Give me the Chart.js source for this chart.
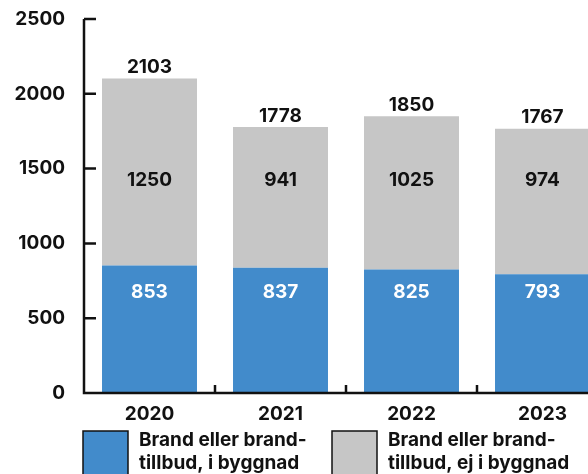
<!DOCTYPE html>
<html>
<head>
<meta charset="utf-8">
<script src="https://cdn.jsdelivr.net/npm/chart.js@4/dist/chart.umd.min.js"></script>
<style>
  html, body { margin: 0; padding: 0; background: #fff; overflow: hidden; }
  #wrap { width: 620px; height: 474px; position: relative; }
</style>
</head>
<body>
<div id="wrap"><canvas id="chart"></canvas></div>
<script>
// Data
const years = ['2020', '2021', '2022', '2023'];
const inBuilding = [853, 837, 825, 793];
const notInBuilding = [1250, 941, 1025, 974];
const totals = [2103, 1778, 1850, 1767];
const yTicks = [0, 500, 1000, 1500, 2000, 2500];
const legendLabels = [
  ['Brand eller brand-', 'tillbud, i byggnad'],
  ['Brand eller brand-', 'tillbud, ej i byggnad'],
];

const BLUE = '#428bcb';
const GRAY = '#c6c6c6';
const INK = '#111111';
const FAMILY = 'Inter, "Open Sans", sans-serif';
const FONT = 'bold 19px ' + FAMILY;

// axes, ticks, value labels and the legend
const drawExtras = {
  id: 'drawExtras',
  afterDraw(chart) {
    const { ctx, chartArea: area, scales: { x, y } } = chart;
    ctx.save();
    ctx.strokeStyle = INK;
    ctx.lineWidth = 2.5;

    // y axis + ticks pointing inwards
    ctx.beginPath();
    ctx.moveTo(area.left, y.getPixelForValue(2500));
    ctx.lineTo(area.left, y.getPixelForValue(0));
    ctx.lineTo(area.right, y.getPixelForValue(0));
    yTicks.forEach(v => {
      const py = y.getPixelForValue(v);
      ctx.moveTo(area.left, py);
      ctx.lineTo(area.left + 12, py);
    });
    // x ticks between categories
    for (let i = 0; i < years.length - 1; i++) {
      const px = (x.getPixelForValue(i) + x.getPixelForValue(i + 1)) / 2;
      ctx.moveTo(px, y.getPixelForValue(0));
      ctx.lineTo(px, y.getPixelForValue(0) - 8);
    }
    ctx.stroke();

    // value labels
    ctx.font = FONT;
    ctx.textAlign = 'center';
    ctx.textBaseline = 'middle';
    years.forEach((yr, i) => {
      const px = x.getPixelForValue(i);
      ctx.fillStyle = '#ffffff';
      ctx.fillText(String(inBuilding[i]), px, y.getPixelForValue(673));
      ctx.fillStyle = INK;
      ctx.fillText(String(notInBuilding[i]), px, y.getPixelForValue(1420));
      ctx.fillText(String(totals[i]), px, y.getPixelForValue(totals[i]) - 11);
    });

    // legend
    const colors = [BLUE, GRAY];
    const boxX = [83, 332];
    ctx.textAlign = 'left';
    ctx.lineWidth = 1.5;
    legendLabels.forEach((lines, i) => {
      ctx.fillStyle = colors[i];
      ctx.fillRect(boxX[i], 431, 45, 45);
      ctx.strokeStyle = INK;
      ctx.strokeRect(boxX[i], 431, 45, 45);
      ctx.fillStyle = INK;
      lines.forEach((t, j) => ctx.fillText(t, boxX[i] + 56, 440 + j * 23));
    });
    ctx.restore();
  }
};

new Chart(document.getElementById('chart'), {
  type: 'bar',
  data: {
    labels: years,
    datasets: [
      {
        label: legendLabels[0].join(''),
        data: inBuilding,
        backgroundColor: BLUE,
        categoryPercentage: 1,
        barPercentage: 0.725,
      },
      {
        label: legendLabels[1].join(''),
        data: notInBuilding,
        backgroundColor: GRAY,
        categoryPercentage: 1,
        barPercentage: 0.725,
      },
    ],
  },
  options: {
    responsive: true,
    maintainAspectRatio: false,
    animation: false,
    layout: { padding: { top: 19, right: 12, left: 0, bottom: 0 } },
    plugins: { legend: { display: false }, tooltip: { enabled: false } },
    scales: {
      x: {
        stacked: true,
        grid: { display: false },
        border: { display: false },
        ticks: { color: INK, font: { family: FAMILY, size: 19, weight: 'bold' }, padding: 2 },
        afterFit: s => { s.height = 81; },
      },
      y: {
        stacked: true,
        min: 0,
        max: 2500,
        grid: { display: false },
        border: { display: false },
        ticks: {
          stepSize: 500,
          color: INK,
          padding: 11,
          font: { family: FAMILY, size: 19, weight: 'bold', lineHeight: 0.8 },
          callback: v => String(v),
        },
        afterFit: s => { s.width = 84; },
      },
    },
  },
  plugins: [drawExtras],
});
</script>
</body>
</html>
